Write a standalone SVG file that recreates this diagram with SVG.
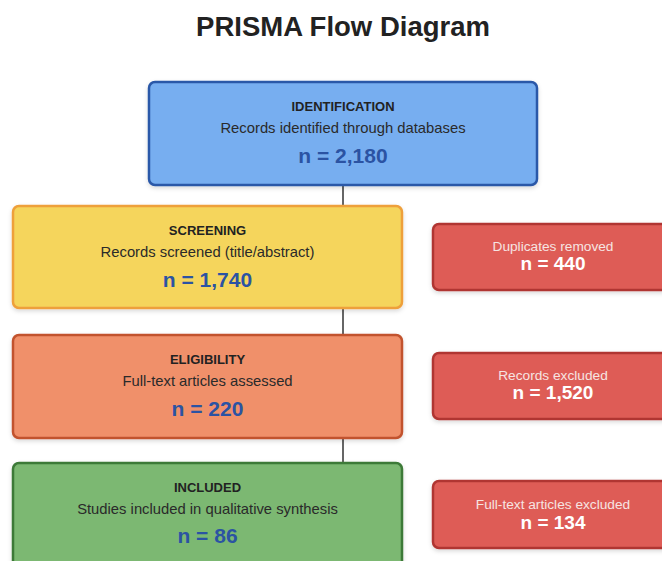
<svg xmlns="http://www.w3.org/2000/svg" width="662" height="561" viewBox="0 0 662 561">
  <defs>
    <filter id="shadow" x="-10%" y="-10%" width="120%" height="130%">
      <feDropShadow dx="0" dy="2" stdDeviation="2" flood-color="#000" flood-opacity="0.15"/>
    </filter>
  </defs>
  <style>
    text { font-family: "Liberation Sans", Arial, sans-serif; text-anchor: middle; }
    .title { font-size: 27.5px; font-weight: bold; fill: #222; }
    .box { stroke-width: 2.5; filter: url(#shadow); }
    .stage { font-size: 13px; font-weight: bold; fill: #222; }
    .desc { font-size: 14.8px; fill: #2a2a2a; }
    .count { font-size: 21px; font-weight: bold; fill: #2b53a3; }
    .side-label { font-size: 13.7px; fill: #f6e4e2; }
    .side-count { font-size: 19px; font-weight: bold; fill: #ffffff; }
    .blue { fill: #77aef0; stroke: #2a58a8; }
    .yellow { fill: #f5d55b; stroke: #eea03a; }
    .orange { fill: #f0906b; stroke: #c2522d; }
    .green { fill: #7bb872; stroke: #3c7a37; }
    .red { fill: #de5c57; stroke: #b03632; }
    .link { stroke: #333; stroke-width: 1.5; fill: none; }
  </style>

  <rect width="662" height="561" fill="#ffffff"/>

  <text class="title" x="343" y="36">PRISMA Flow Diagram</text>

  <!-- vertical flow connectors -->
  <g id="connectors">
    <line class="link" x1="343" y1="185" x2="343" y2="206"/>
    <line class="link" x1="343" y1="308" x2="343" y2="335"/>
    <line class="link" x1="343" y1="438" x2="343" y2="463"/>
  </g>

  <g id="identification">
    <rect class="box blue" x="149" y="82" width="388" height="103" rx="6"/>
    <text class="stage" x="343" y="111">IDENTIFICATION</text>
    <text class="desc" x="343" y="133">Records identified through databases</text>
    <text class="count" x="343" y="163">n = 2,180</text>
  </g>

  <g id="screening">
    <rect class="box yellow" x="13" y="206" width="389" height="102" rx="6"/>
    <text class="stage" x="207.5" y="235">SCREENING</text>
    <text class="desc" x="207.5" y="257">Records screened (title/abstract)</text>
    <text class="count" x="207.5" y="287">n = 1,740</text>
  </g>

  <g id="duplicates">
    <rect class="box red" x="433" y="224" width="240" height="66" rx="6"/>
    <text class="side-label" x="553" y="251">Duplicates removed</text>
    <text class="side-count" x="553" y="270">n = 440</text>
  </g>

  <g id="eligibility">
    <rect class="box orange" x="13" y="335" width="389" height="103" rx="6"/>
    <text class="stage" x="207.5" y="364">ELIGIBILITY</text>
    <text class="desc" x="207.5" y="386">Full-text articles assessed</text>
    <text class="count" x="207.5" y="416">n = 220</text>
  </g>

  <g id="records-excluded">
    <rect class="box red" x="433" y="353" width="240" height="66" rx="6"/>
    <text class="side-label" x="553" y="380">Records excluded</text>
    <text class="side-count" x="553" y="399">n = 1,520</text>
  </g>

  <g id="included">
    <rect class="box green" x="13" y="463" width="389" height="110" rx="6"/>
    <text class="stage" x="207.5" y="492">INCLUDED</text>
    <text class="desc" x="207.5" y="514">Studies included in qualitative synthesis</text>
    <text class="count" x="207.5" y="543">n = 86</text>
  </g>

  <g id="fulltext-excluded">
    <rect class="box red" x="433" y="481" width="240" height="67" rx="6"/>
    <text class="side-label" x="553" y="509">Full-text articles excluded</text>
    <text class="side-count" x="553" y="529">n = 134</text>
  </g>
</svg>
